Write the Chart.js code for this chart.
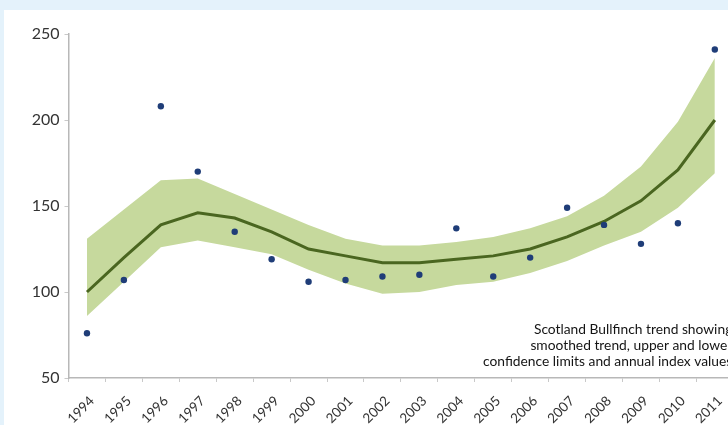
<!DOCTYPE html>
<html>
<head>
<meta charset="utf-8">
<script src="https://cdn.jsdelivr.net/npm/chart.js@4/dist/chart.umd.min.js"></script>
<style>
  html, body { margin: 0; padding: 0; background: #e4f2fb; overflow: hidden; width: 728px; height: 425px; }
  #panel { position: absolute; left: 4px; top: 10px; width: 745px; height: 415px; background: #ffffff; }
  #panel canvas { display: block; }
</style>
</head>
<body>
<div id="panel"><canvas id="chart" width="745" height="415"></canvas></div>
<script>
// Survey years
const years = ['1994','1995','1996','1997','1998','1999','2000','2001','2002','2003',
               '2004','2005','2006','2007','2008','2009','2010','2011'];

// Annual index values
const annualIndex = [76, 107, 208, 170, 135, 119, 106, 107, 109, 110, 137, 109, 120, 149, 139, 128, 140, 241];

// Smoothed trend
const smoothedTrend = [100, 120, 139, 146, 143, 135, 125, 121, 117, 117, 119, 121, 125, 132, 141, 153, 171, 200];

// Confidence limits
const upperLimit = [131, 148, 165, 166, 157, 148, 139, 131, 127, 127, 129, 132, 137, 144, 156, 173, 199, 236];
const lowerLimit = [86, 106, 126, 130, 126, 122, 113, 105, 99, 100, 104, 106, 111, 118, 127, 135, 149, 169];

// Y axis ticks
const yTicks = [50, 100, 150, 200, 250];

const captionLines = [
  'Scotland Bullfinch trend showing',
  'smoothed trend, upper and lower',
  'confidence limits and annual index values'
];

const caption = {
  id: 'caption',
  afterDraw(chart) {
    const { ctx, chartArea } = chart;
    ctx.save();
    ctx.font = '13.8px Lato, "Open Sans", sans-serif';
    ctx.fillStyle = '#141414';
    ctx.textAlign = 'right';
    ctx.textBaseline = 'middle';
    const x = chartArea.right - 1;
    const lineH = 16.2;
    const base = chartArea.bottom - 16.3;
    captionLines.forEach((t, i) => {
      ctx.fillText(t, x, base - (captionLines.length - 1 - i) * lineH);
    });
    ctx.restore();
  }
};

new Chart(document.getElementById('chart'), {
  type: 'line',
  data: {
    labels: years,
    datasets: [
      {
        label: 'Upper limit',
        data: upperLimit,
        borderWidth: 0,
        borderColor: 'rgba(0,0,0,0)',
        backgroundColor: '#c6d99d',
        pointRadius: 0,
        fill: '+1',
        order: 3
      },
      {
        label: 'Lower limit',
        data: lowerLimit,
        borderWidth: 0,
        borderColor: 'rgba(0,0,0,0)',
        pointRadius: 0,
        fill: false,
        order: 3
      },
      {
        label: 'Smoothed trend',
        data: smoothedTrend,
        borderColor: '#4a6620',
        borderWidth: 3,
        pointRadius: 0,
        fill: false,
        tension: 0,
        order: 2
      },
      {
        label: 'Annual index',
        data: annualIndex,
        showLine: false,
        pointRadius: 3.2,
        pointBackgroundColor: '#1f3d78',
        pointBorderWidth: 0,
        fill: false,
        order: 1
      }
    ]
  },
  options: {
    responsive: false,
    animation: false,
    layout: { padding: { top: 24, right: 15.7, left: 0, bottom: 0 } },
    plugins: {
      legend: { display: false },
      tooltip: { enabled: false }
    },
    scales: {
      x: {
        type: 'category',
        offset: true,
        grid: {
          offset: true,
          drawOnChartArea: false,
          drawTicks: true,
          tickLength: 4,
          color: '#c9c9c9'
        },
        border: { display: true, color: '#b8b8b8', width: 1.5 },
        ticks: {
          minRotation: 45,
          maxRotation: 45,
          autoSkip: false,
          padding: 11,
          labelOffset: 5,
          color: '#333333',
          font: { family: 'Lato, "Open Sans", sans-serif', size: 13.5 }
        },
        afterFit(scale) { scale.height = 47; }
      },
      y: {
        min: 50,
        max: 250,
        afterBuildTicks(scale) { scale.ticks = yTicks.map(v => ({ value: v })); },
        grid: {
          drawOnChartArea: false,
          drawTicks: true,
          tickLength: 4,
          color: '#c9c9c9'
        },
        border: { display: true, color: '#b8b8b8', width: 1.5 },
        ticks: {
          padding: 5,
          color: '#333333',
          font: { family: 'Lato, "Open Sans", sans-serif', size: 16 }
        },
        afterFit(scale) { scale.width = 64.5; }
      }
    }
  },
  plugins: [caption]
});
</script>
</body>
</html>
